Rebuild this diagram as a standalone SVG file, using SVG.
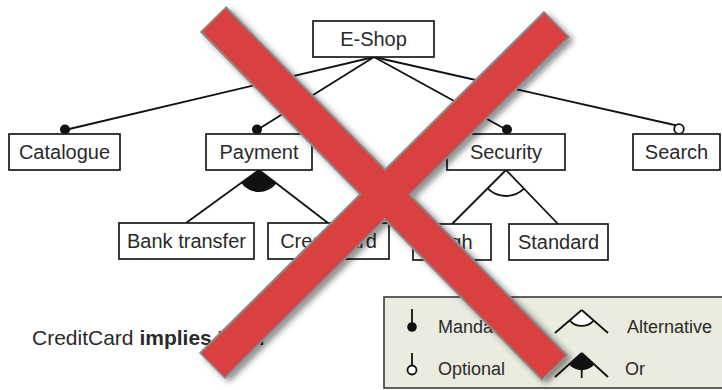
<svg xmlns="http://www.w3.org/2000/svg" width="722" height="390" viewBox="0 0 722 390">
<style>
.box{fill:#fff;stroke:#1a1a1a;stroke-width:1.7}
.lbl{font-family:"Liberation Sans",Arial,sans-serif;font-size:20px;fill:#2a2a2a;text-anchor:middle}
.leg{font-family:"Liberation Sans",Arial,sans-serif;font-size:18px;fill:#2a2a2a}
.con{stroke:#111;stroke-width:1.8;fill:none}
.cst{font-family:"Liberation Sans",Arial,sans-serif;font-size:21px;fill:#2a2a2a}
</style>
<defs>
<filter id="sh" x="-10%" y="-10%" width="130%" height="130%">
<feGaussianBlur in="SourceAlpha" stdDeviation="3"/>
<feOffset dx="4" dy="3" result="b"/>
<feComponentTransfer><feFuncA type="linear" slope="0.45"/></feComponentTransfer>
<feMerge><feMergeNode/><feMergeNode in="SourceGraphic"/></feMerge>
</filter>
</defs>
<rect width="722" height="390" fill="#fff"/>
<g id="connectors">
<line class="con" x1="374" y1="57" x2="65" y2="130"/>
<line class="con" x1="374" y1="57" x2="257" y2="130"/>
<line class="con" x1="374" y1="57" x2="507" y2="130"/>
<line class="con" x1="374" y1="57" x2="679" y2="126"/>
<circle cx="65" cy="129.5" r="5" fill="#111"/>
<circle cx="257" cy="129.5" r="5" fill="#111"/>
<circle cx="507" cy="129.5" r="5" fill="#111"/>
<circle cx="679" cy="129" r="4.8" fill="#fff" stroke="#111" stroke-width="1.8"/>
<path d="M259,170 L241.2,182.9 A22,22 0 0 0 276.4,183.4 Z" fill="#111"/>
<line class="con" x1="259" y1="170" x2="186" y2="223"/>
<line class="con" x1="259" y1="170" x2="328" y2="223"/>
<line class="con" x1="506" y1="170" x2="452" y2="224"/>
<line class="con" x1="506" y1="170" x2="558" y2="224"/>
<path class="con" d="M487.6,188.4 A26,26 0 0 0 524,188.7"/>
</g>
<g id="n-eshop"><rect class="box" x="313" y="21" width="121" height="36"/><text class="lbl" x="373.5" y="46">E-Shop</text></g>
<g id="n-catalogue"><rect class="box" x="9" y="134" width="111" height="36"/><text class="lbl" x="64.5" y="159">Catalogue</text></g>
<g id="n-payment"><rect class="box" x="206" y="134" width="106" height="36"/><text class="lbl" x="259" y="159">Payment</text></g>
<g id="n-security"><rect class="box" x="447" y="134" width="118" height="36"/><text class="lbl" x="506" y="159">Security</text></g>
<g id="n-search"><rect class="box" x="633" y="134" width="87" height="36"/><text class="lbl" x="676.5" y="159">Search</text></g>
<g id="n-bank"><rect class="box" x="119" y="223" width="135" height="36"/><text class="lbl" x="186.5" y="248">Bank transfer</text></g>
<g id="n-credit"><rect class="box" x="268" y="223" width="121" height="36"/><text class="lbl" x="328.5" y="248">CreditCard</text></g>
<g id="n-high"><rect class="box" x="413" y="224" width="78" height="36"/><text class="lbl" x="452" y="249">High</text></g>
<g id="n-standard"><rect class="box" x="509" y="224" width="99" height="36"/><text class="lbl" x="558.5" y="249">Standard</text></g>
<g id="constraint"><text class="cst" x="32" y="345">CreditCard <tspan font-weight="bold">implies High</tspan></text></g>
<g id="legend">
<rect x="384" y="297" width="345" height="91" fill="#ebebdf" stroke="#3a3a3a" stroke-width="1.6"/>
<line class="con" x1="412" y1="309" x2="412" y2="324"/>
<circle cx="412" cy="327" r="4.8" fill="#111"/>
<text class="leg" x="438" y="333">Mandatory</text>
<line class="con" x1="412" y1="353" x2="412" y2="366"/>
<circle cx="412" cy="370" r="4.5" fill="#fff" stroke="#111" stroke-width="1.8"/>
<text class="leg" x="438" y="375">Optional</text>
<path d="M570.5,320.5 A16,16 0 0 0 592.9,320.5 L581.7,310 Z" fill="#fff"/>
<line class="con" x1="581.7" y1="310" x2="555" y2="333"/>
<line class="con" x1="581.7" y1="310" x2="608" y2="333"/>
<path class="con" d="M569.6,320.4 A16,16 0 0 0 593.8,320.4"/>
<text class="leg" x="627" y="333">Alternative</text>
<path d="M581.7,353 L568.8,364.2 A17,17 0 0 0 594.6,364.2 Z" fill="#111"/>
<line class="con" x1="581.7" y1="353" x2="555" y2="377"/>
<line class="con" x1="581.7" y1="353" x2="608" y2="377"/>
<line class="con" x1="581.7" y1="368" x2="581.7" y2="378"/>
<text class="leg" x="625" y="375">Or</text>
</g>
<g id="cross">
<g filter="url(#sh)">
<line x1="213" y1="19" x2="555" y2="368" stroke="#8a8a8a" stroke-width="37"/>
<line x1="557" y1="24" x2="212" y2="366" stroke="#8a8a8a" stroke-width="37"/>
</g>
<line x1="214" y1="20" x2="554" y2="367" stroke="#d94141" stroke-width="33"/>
<line x1="556" y1="25" x2="213" y2="365" stroke="#d94141" stroke-width="33"/>
</g>
</svg>
